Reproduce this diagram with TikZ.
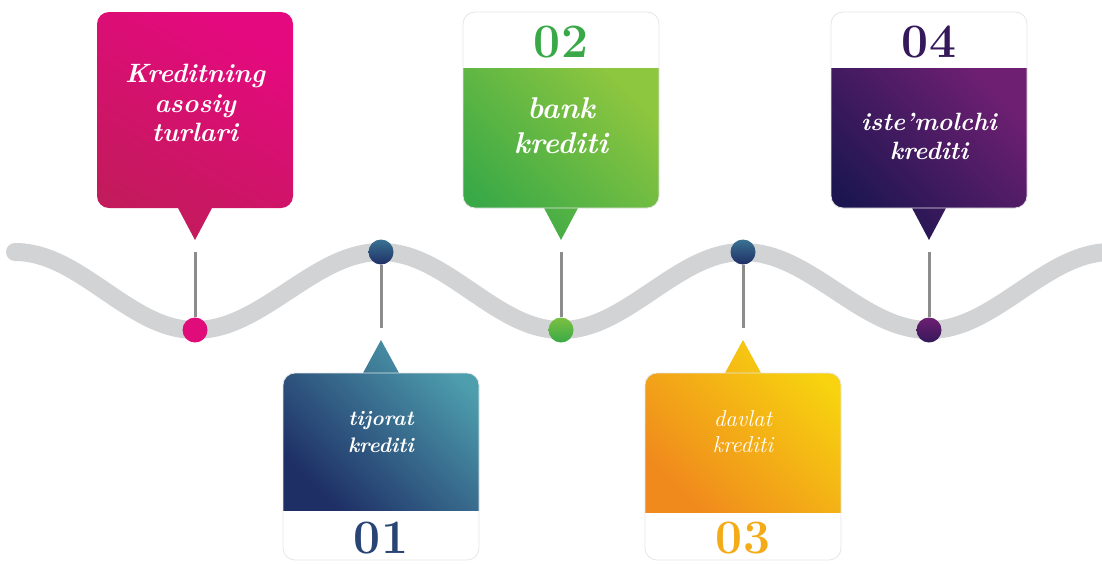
\documentclass[tikz,border=0pt]{standalone}
\usepackage{fontspec}
\usepackage{tikz}

\definecolor{wavegray}{HTML}{D1D3D4}
\definecolor{stemgray}{HTML}{8C8C8C}
\definecolor{pinkA}{HTML}{E5097F}
\definecolor{pinkB}{HTML}{C21B5B}
\definecolor{blueA}{HTML}{4E9FAE}
\definecolor{blueB}{HTML}{1E2F66}
\definecolor{greenA}{HTML}{8DC63F}
\definecolor{greenB}{HTML}{39A947}
\definecolor{orangeA}{HTML}{F7D40F}
\definecolor{orangeB}{HTML}{F08A1D}
\definecolor{purpleA}{HTML}{6E1F72}
\definecolor{purpleB}{HTML}{1C1650}

\begin{document}
\begin{tikzpicture}[x=1pt,y=-1pt]
\tikzstyle{wave}=[line width=18pt,color=wavegray,line cap=round]
\tikzstyle{stem}=[line width=3pt,color=stemgray,shorten >=12pt]
\tikzstyle{dot}=[circle,inner sep=0pt,minimum size=25pt]
\tikzstyle{card}=[draw=black!10,line width=0.8pt,rounded corners=12pt]
\tikzstyle{boxtext}=[text=white,align=center,inner sep=0pt]
\tikzstyle{num}=[font=\bfseries\fontsize{48}{48}\selectfont,inner sep=0pt]
 \clip (0,0) rectangle (1102,563);
 \draw[wave] (15,252) cos (105,291) sin (195,330) cos (288,291) sin (381,252)
   cos (471,291) sin (561,330) cos (652,291) sin (743,252) cos (836,291)
   sin (929,330) cos (1020,291) sin (1111,252);

 % upper callouts
 \begin{scope}
 \clip[rounded corners=12pt] (97,12) rectangle (293,208) [sharp corners] (178,208) -- (195,240) -- (212,208) -- cycle;
 \shade[top color=pinkA,bottom color=pinkB,shading angle=-30] (97,12) rectangle (293,240);
 \end{scope}
 \begin{scope}
 \clip[rounded corners=12pt] (463,12) rectangle (659,208) [sharp corners] (544,208) -- (561,240) -- (578,208) -- cycle;
 \shade[top color=greenA,bottom color=greenB,shading angle=-45] (463,68) rectangle (659,240);
 \end{scope}
 \draw[card] (463,12) rectangle (659,208);
 \begin{scope}
 \clip[rounded corners=12pt] (831,12) rectangle (1027,208) [sharp corners] (912,208) -- (929,240) -- (946,208) -- cycle;
 \shade[top color=purpleA,bottom color=purpleB,shading angle=-45] (831,68) rectangle (1027,240);
 \end{scope}
 \draw[card] (831,12) rectangle (1027,208);

 % lower callouts
 \begin{scope}
 \clip[rounded corners=12pt] (283,373) rectangle (479,560) [sharp corners] (363,373) -- (381,340) -- (399,373) -- cycle;
 \shade[top color=blueA,bottom color=blueB,shading angle=-45] (283,340) rectangle (479,510);
 \end{scope}
 \draw[card] (283,373) rectangle (479,560);
 \begin{scope}
 \clip[rounded corners=12pt] (645,373) rectangle (841,560) [sharp corners] (725,373) -- (743,340) -- (761,373) -- cycle;
 \shade[top color=orangeA,bottom color=orangeB,shading angle=-45] (645,340) rectangle (841,512);
 \end{scope}
 \draw[card] (645,373) rectangle (841,560);

 % texts
 \node[boxtext,font=\bfseries\itshape\fontsize{26.5}{29.5}\selectfont] (kredit) at (195,103) {Kreditning\\asosiy\\turlari};
 \node[boxtext,font=\bfseries\itshape\fontsize{30}{35}\selectfont] (bank) at (561,126) {bank\\krediti};
 \node[boxtext,font=\bfseries\itshape\fontsize{25}{29}\selectfont] (istemol) at (929,136) {iste'molchi\\krediti};
 \node[boxtext,font=\bfseries\itshape\fontsize{21}{27}\selectfont] (tijorat) at (381,432) {tijorat\\krediti};
 \node[boxtext,font=\itshape\fontsize{23}{26}\selectfont] (davlat) at (743,432) {davlat\\krediti};
 \node[num,text=blueB!80!blueA] (n01) at (381,538) {01};
 \node[num,text=greenB] (n02) at (561,42) {02};
 \node[num,text=orangeB!55!orangeA] (n03) at (743,538) {03};
 \node[num,text=purpleB!70!purpleA] (n04) at (929,42) {04};

 % dots and stems
 \node[dot,fill=pinkA!85!pinkB] (d0) at (195,330) {};
 \node[dot,top color=blueA!60!blueB,bottom color=blueB] (d1) at (381,252) {};
 \node[dot,top color=greenA!80!greenB,bottom color=greenB] (d2) at (561,330) {};
 \node[dot,top color=blueA!60!blueB,bottom color=blueB] (d3) at (743,252) {};
 \node[dot,top color=purpleA,bottom color=purpleB!70!purpleA] (d4) at (929,330) {};
 \coordinate (tip0) at (195,240);
 \coordinate (tip1) at (381,340);
 \coordinate (tip2) at (561,240);
 \coordinate (tip3) at (743,340);
 \coordinate (tip4) at (929,240);
 \draw[stem] (d0) -- (tip0);
 \draw[stem] (d1) -- (tip1);
 \draw[stem] (d2) -- (tip2);
 \draw[stem] (d3) -- (tip3);
 \draw[stem] (d4) -- (tip4);
\end{tikzpicture}
\end{document}
